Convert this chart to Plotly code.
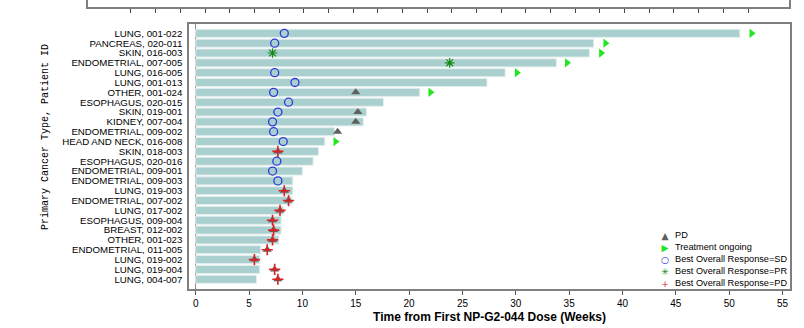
import plotly.graph_objects as go

# ---------------- data ----------------
patients = [
    "LUNG, 001-022", "PANCREAS, 020-011", "SKIN, 016-003", "ENDOMETRIAL, 007-005",
    "LUNG, 016-005", "LUNG, 001-013", "OTHER, 001-024", "ESOPHAGUS, 020-015",
    "SKIN, 019-001", "KIDNEY, 007-004", "ENDOMETRIAL, 009-002", "HEAD AND NECK, 016-008",
    "SKIN, 018-003", "ESOPHAGUS, 020-016", "ENDOMETRIAL, 009-001", "ENDOMETRIAL, 009-003",
    "LUNG, 019-003", "ENDOMETRIAL, 007-002", "LUNG, 017-002", "ESOPHAGUS, 009-004",
    "BREAST, 012-002", "OTHER, 001-023", "ENDOMETRIAL, 011-005", "LUNG, 019-002",
    "LUNG, 019-004", "LUNG, 004-007",
]
duration_weeks = [51.0, 37.3, 36.9, 33.8, 29.0, 27.3, 21.0, 17.6, 16.0, 15.7, 13.0, 12.1, 11.5,
                  11.0, 10.0, 9.1, 9.1, 9.0, 8.2, 8.0, 8.0, 7.8, 6.1, 6.0, 6.0, 5.7]
ongoing_time = [52.1, 38.4, 38.0, 34.8, 30.1, None, 22.0, None, None, None, None, 13.1, None,
                None, None, None, None, None, None, None, None, None, None, None, None, None]
pd_time = [None, None, None, None, None, None, 15.0, None, 15.2, 15.0, 13.3, None, 7.7,
           None, None, None, 8.3, 8.7, 7.9, 7.2, 7.3, 7.2, 6.7, 5.5, 7.4, 7.7]
best_response = ["SD", "SD", "PR", "PR", "SD", "SD", "SD", "SD", "SD", "SD", "SD", "SD", "PD",
                 "SD", "SD", "SD", "PD", "PD", "PD", "PD", "PD", "PD", "PD", "PD", "PD", "PD"]
response_time = [8.3, 7.4, 7.2, 23.8, 7.4, 9.3, 7.3, 8.7, 7.7, 7.2, 7.3, 8.2, 7.7,
                 7.6, 7.2, 7.7, 8.3, 8.7, 7.9, 7.2, 7.3, 7.2, 6.7, 5.5, 7.4, 7.7]
x_ticks = [0, 5, 10, 15, 20, 25, 30, 35, 40, 45, 50, 55]

legend_items = [
    ("▲", "#5f5f5f", "PD"),
    ("▶", "#22e622", "Treatment ongoing"),
    ("○", "#2a3ad8", "Best Overall Response=SD"),
    ("✳", "#168a16", "Best Overall Response=PR"),
    ("+", "#e02020", "Best Overall Response=PD"),
]

FONT = "Liberation Sans, Arial, sans-serif"


def pick(values, mask):
    return [v for v, m in zip(values, mask) if m]


fig = go.Figure()

fig.add_trace(go.Bar(
    orientation="h", x=duration_weeks, y=patients, width=0.82,
    marker=dict(color="#aacfcf", line=dict(color="#e4eeee", width=1)),
    showlegend=False, name="Duration",
))

m_pd = [t is not None for t in pd_time]
fig.add_trace(go.Scatter(
    x=pick(pd_time, m_pd), y=pick(patients, m_pd), mode="markers", name="PD",
    marker=dict(symbol="triangle-up", size=8, color="#5f5f5f"), showlegend=False,
))
m_on = [t is not None for t in ongoing_time]
fig.add_trace(go.Scatter(
    x=pick(ongoing_time, m_on), y=pick(patients, m_on), mode="markers", name="Treatment ongoing",
    marker=dict(symbol="triangle-right", size=8, color="#22e622"), showlegend=False,
))
resp_styles = {
    "SD": dict(symbol="circle-open", size=8, color="#2a3ad8", line=dict(width=1.3, color="#2a3ad8")),
    "PR": dict(symbol="asterisk-open", size=8, color="#168a16", line=dict(width=1.2, color="#168a16")),
    "PD": dict(symbol="cross-thin-open", size=8, color="#e02020", line=dict(width=1.6, color="#e02020")),
}
for resp in ["SD", "PR", "PD"]:
    m = [r == resp for r in best_response]
    fig.add_trace(go.Scatter(
        x=pick(response_time, m), y=pick(patients, m), mode="markers",
        name="Best Overall Response=" + resp, marker=resp_styles[resp], showlegend=False,
    ))

# axis strip of the panel above (cut off at the top edge)
n = len(patients)
fig.add_trace(go.Scatter(
    x=list(range(n)), y=[0.5] * n, xaxis="x2", yaxis="y2", mode="markers",
    marker=dict(size=1, opacity=0), hoverinfo="skip", showlegend=False, name="upper panel",
))

# ---------------- layout ----------------
W, H = 804, 328
ML, MR, MT, MB = 88, 14, 0, 39
PW, PH = W - ML - MR, H - MT - MB


def px_x(p):
    return (p - ML) / PW


def px_y(p):
    return (H - MB - p) / PH


fig.update_layout(
    width=W, height=H,
    margin=dict(l=ML, r=MR, t=MT, b=MB, pad=0),
    paper_bgcolor="white", plot_bgcolor="white",
    font=dict(family=FONT, color="#000000"),
    barmode="overlay",
    xaxis=dict(
        domain=[px_x(189), 1], anchor="y",
        range=[-0.63, 55.7], tickvals=x_ticks, ticks="outside", ticklen=4,
        tickcolor="#555555", tickfont=dict(size=10),
        showline=True, mirror=True, linecolor="#7f7f7f", linewidth=1.5,
        showgrid=False, zeroline=True, zerolinecolor="#8a8a8a", zerolinewidth=1,
        title=dict(text="Time from First NP-G2-044 Dose (Weeks)", standoff=5,
                   font=dict(family=FONT, size=12, weight="bold")),
    ),
    yaxis=dict(
        domain=[0, px_y(23.5)], anchor="x",
        type="category", categoryorder="array", categoryarray=patients,
        tickmode="array", tickvals=patients,
        range=[n - 0.01, -1.0], ticks="", ticklabelstandoff=3,
        tickfont=dict(size=9.7),
        showline=True, mirror=True, linecolor="#7f7f7f", linewidth=1.5,
        showgrid=False, zeroline=False,
    ),
    xaxis2=dict(
        domain=[0, px_x(789)], anchor="y2", side="bottom",
        range=[-1.74, n + 0.66], tickmode="array", tickvals=list(range(n)),
        ticks="outside", ticklen=4, tickwidth=1,
        tickcolor="#444444", showticklabels=False,
        showline=True, mirror=False, linecolor="#7f7f7f", linewidth=1.5,
        showgrid=False, zeroline=False,
    ),
    yaxis2=dict(
        domain=[px_y(7), 1], anchor="x2", range=[0, 1],
        showticklabels=False, ticks="", showline=True, mirror=True,
        linecolor="#7f7f7f", linewidth=1.5, showgrid=False, zeroline=False,
    ),
)

annotations = [
    dict(text="Primary Cancer Type, Patient ID", textangle=-90,
         xref="paper", yref="paper", x=px_x(45), y=px_y(137),
         xanchor="center", yanchor="middle", showarrow=False,
         font=dict(family="Liberation Mono, Courier New, monospace", size=10)),
    dict(text="<br>".join(f"<span style='color:{c}'>{s}</span>" for s, c, _ in legend_items),
         xref="paper", yref="paper", x=px_x(665), y=px_y(228),
         xanchor="center", yanchor="top", align="center", showarrow=False,
         font=dict(family="DejaVu Sans, sans-serif", size=9.2)),
    dict(text="<br>".join(t for _, _, t in legend_items),
         xref="paper", yref="paper", x=px_x(673), y=px_y(228),
         xanchor="left", yanchor="top", align="left", showarrow=False,
         font=dict(family=FONT, size=9.2)),
]
fig.update_layout(annotations=annotations)

fig.write_html(
    "out.html",
    config={"displayModeBar": False},
    post_script="document.body.style.margin='0';document.body.style.overflow='hidden';",
)
